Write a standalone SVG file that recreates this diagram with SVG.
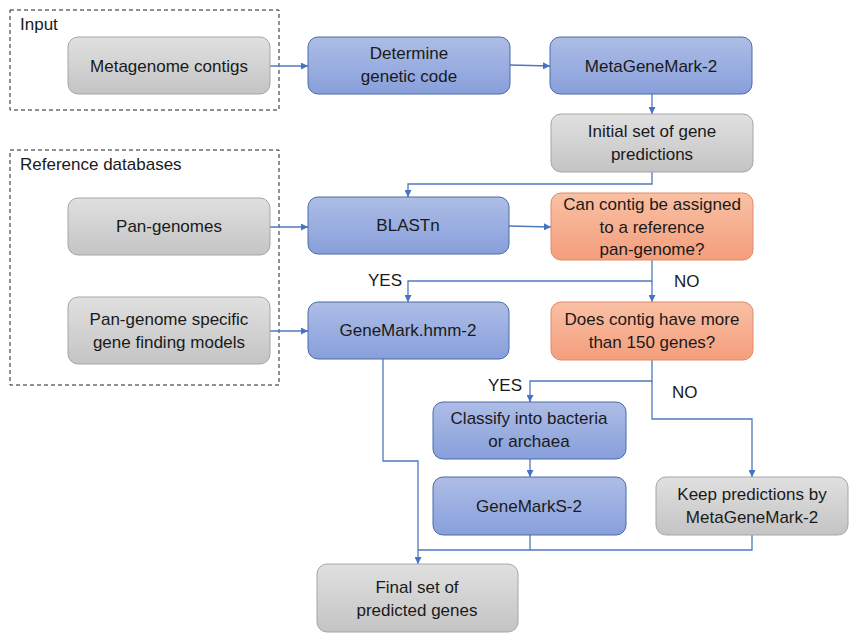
<svg xmlns="http://www.w3.org/2000/svg" width="854" height="636" viewBox="0 0 854 636">
<defs>
<linearGradient id="gGray" x1="0" y1="0" x2="0" y2="1"><stop offset="0" stop-color="#e0e0e0"/><stop offset="1" stop-color="#c4c4c4"/></linearGradient>
<linearGradient id="gBlue" x1="0" y1="0" x2="0" y2="1"><stop offset="0" stop-color="#aebde6"/><stop offset="1" stop-color="#879fdb"/></linearGradient>
<linearGradient id="gOrange" x1="0" y1="0" x2="0" y2="1"><stop offset="0" stop-color="#f9c0a4"/><stop offset="1" stop-color="#f49e7c"/></linearGradient>
<marker id="arr" viewBox="0 0 10 10" refX="10" refY="5" markerWidth="7" markerHeight="7" orient="auto" markerUnits="userSpaceOnUse"><path d="M0,0 L10,5 L0,10 z" fill="#4472c4"/></marker>
</defs>
<style>
.gray{fill:url(#gGray);stroke:#a6a6a6;stroke-width:1}
.blue{fill:url(#gBlue);stroke:#4a6aa8;stroke-width:1}
.orange{fill:url(#gOrange);stroke:#e08a66;stroke-width:1}
text{font-family:"Liberation Sans",Arial,sans-serif;font-size:17px;fill:#1a1a1a;text-anchor:middle}
.lbl{text-anchor:start}
.grp{fill:none;stroke:#222;stroke-width:1;stroke-dasharray:4,3}
.c{fill:none;stroke:#4f78bd;stroke-width:1.3}
.ca{fill:none;stroke:#4f78bd;stroke-width:1.3;marker-end:url(#arr)}
</style>
<rect width="854" height="636" fill="#fff"/>
<g id="group-input"><rect class="grp" x="10" y="10" width="269" height="100"/><text class="lbl" x="20" y="30">Input</text></g>
<g id="group-refdb"><rect class="grp" x="10" y="150" width="269" height="235"/><text class="lbl" x="20" y="170">Reference databases</text></g>

<g id="connectors">
<path class="ca" d="M270,66 L308,66"/>
<path class="ca" d="M510,65 L550,66"/>
<path class="ca" d="M652,94 L652,114"/>
<path class="ca" d="M652,172 L652,184 L408,184 L408,197"/>
<path class="ca" d="M270,227 L308,227"/>
<path class="ca" d="M509,226 L551,227"/>
<path class="ca" d="M652,260 L652,281 L408,281 L408,302"/>
<path class="ca" d="M652,281 L652,302"/>
<path class="ca" d="M270,331 L308,331"/>
<path class="ca" d="M652,360 L652,381 L530,381 L530,402"/>
<path class="ca" d="M652,381 L652,419 L752,419 L752,477"/>
<path class="ca" d="M530,459 L530,477"/>
<path class="ca" d="M383,359 L383,461 L418,461 L418,564"/>
<path class="c" d="M530,535 L530,550"/>
<path class="c" d="M752,535 L752,550 L418,550"/>
<text class="lbl" x="368" y="286">YES</text>
<text class="lbl" x="674" y="287">NO</text>
<text class="lbl" x="488" y="391">YES</text>
<text class="lbl" x="672" y="398">NO</text>
</g>

<g id="n-metagenome"><rect class="gray" x="68" y="37" width="202" height="57" rx="10"/><text x="169" y="72">Metagenome contigs</text></g>
<g id="n-determine"><rect class="blue" x="308" y="37" width="202" height="57" rx="10"/><text x="409" y="59">Determine</text><text x="409" y="82">genetic code</text></g>
<g id="n-metagenemark"><rect class="blue" x="550" y="37" width="202" height="57" rx="10"/><text x="651" y="72">MetaGeneMark-2</text></g>
<g id="n-initial"><rect class="gray" x="551" y="114" width="202" height="58" rx="10"/><text x="652" y="137">Initial set of gene</text><text x="652" y="160">predictions</text></g>
<g id="n-pangenomes"><rect class="gray" x="68" y="198" width="202" height="57" rx="10"/><text x="169" y="232">Pan-genomes</text></g>
<g id="n-blastn"><rect class="blue" x="308" y="197" width="201" height="57" rx="10"/><text x="408" y="231">BLASTn</text></g>
<g id="n-canassign"><rect class="orange" x="551" y="193" width="202" height="67" rx="10"/><text x="652" y="210">Can contig be assigned</text><text x="652" y="233">to a reference</text><text x="652" y="255">pan-genome?</text></g>
<g id="n-pgmodels"><rect class="gray" x="68" y="297" width="202" height="67" rx="10"/><text x="169" y="325">Pan-genome specific</text><text x="169" y="348">gene finding models</text></g>
<g id="n-genemarkhmm"><rect class="blue" x="308" y="302" width="201" height="57" rx="10"/><text x="408" y="336">GeneMark.hmm-2</text></g>
<g id="n-150genes"><rect class="orange" x="551" y="302" width="202" height="58" rx="10"/><text x="652" y="325">Does contig have more</text><text x="652" y="348">than 150 genes?</text></g>
<g id="n-classify"><rect class="blue" x="433" y="402" width="193" height="57" rx="10"/><text x="529" y="424">Classify into bacteria</text><text x="529" y="447">or archaea</text></g>
<g id="n-genemarks2"><rect class="blue" x="433" y="477" width="193" height="58" rx="10"/><text x="529" y="512">GeneMarkS-2</text></g>
<g id="n-keep"><rect class="gray" x="656" y="477" width="192" height="58" rx="10"/><text x="752" y="500">Keep predictions by</text><text x="752" y="523">MetaGeneMark-2</text></g>
<g id="n-final"><rect class="gray" x="317" y="564" width="201" height="68" rx="10"/><text x="417" y="593">Final set of</text><text x="417" y="616">predicted genes</text></g>
</svg>
